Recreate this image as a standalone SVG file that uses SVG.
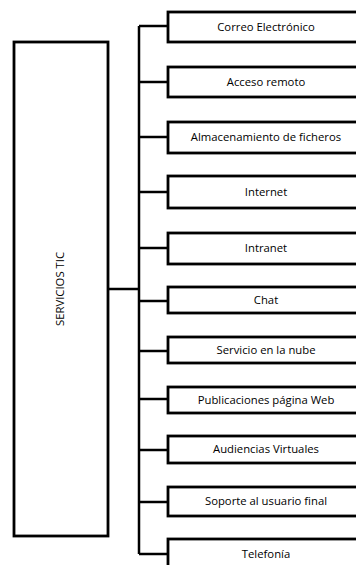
<svg xmlns="http://www.w3.org/2000/svg" width="356" height="565" viewBox="0 0 356 565">
<style>
.box{fill:#fff;stroke:#000;stroke-width:2.8}
.lbl{font-family:"Open Sans","Liberation Sans",Arial,sans-serif;font-size:11.3px;fill:#000;text-anchor:middle}
.conn{stroke:#000;stroke-width:2.5;fill:none}
</style>
<rect width="356" height="565" fill="#fff"/>
<g id="connectors">
<line class="conn" x1="139" y1="26" x2="139" y2="554"/>
<line class="conn" x1="108" y1="289" x2="139" y2="289" stroke-width="3.5"/>
<line class="conn" x1="139" y1="26" x2="168" y2="26"/>
<line class="conn" x1="139" y1="82" x2="168" y2="82"/>
<line class="conn" x1="139" y1="137" x2="168" y2="137"/>
<line class="conn" x1="139" y1="192" x2="168" y2="192"/>
<line class="conn" x1="139" y1="248" x2="168" y2="248"/>
<line class="conn" x1="139" y1="301" x2="168" y2="301"/>
<line class="conn" x1="139" y1="351" x2="168" y2="351"/>
<line class="conn" x1="139" y1="399" x2="168" y2="399"/>
<line class="conn" x1="139" y1="450" x2="168" y2="450"/>
<line class="conn" x1="139" y1="502" x2="168" y2="502"/>
<line class="conn" x1="139" y1="554" x2="168" y2="554"/>
</g>
<g id="servicios-tic">
<rect class="box" x="14" y="42" width="94" height="494"/>
<text class="lbl" transform="translate(64,289) rotate(-90)">SERVICIOS TIC</text>
</g>
<g id="correo">
<rect class="box" x="168" y="12" width="196" height="30"/>
<text class="lbl" x="266" y="31">Correo Electrónico</text>
</g>
<g id="acceso">
<rect class="box" x="168" y="67" width="196" height="30"/>
<text class="lbl" x="266" y="86">Acceso remoto</text>
</g>
<g id="almacenamiento">
<rect class="box" x="168" y="122" width="196" height="31"/>
<text class="lbl" x="266" y="141">Almacenamiento de ficheros</text>
</g>
<g id="internet">
<rect class="box" x="168" y="176" width="196" height="32"/>
<text class="lbl" x="266" y="196">Internet</text>
</g>
<g id="intranet">
<rect class="box" x="168" y="233" width="196" height="31"/>
<text class="lbl" x="266" y="252">Intranet</text>
</g>
<g id="chat">
<rect class="box" x="168" y="287" width="196" height="26"/>
<text class="lbl" x="266" y="304">Chat</text>
</g>
<g id="nube">
<rect class="box" x="168" y="337" width="196" height="26"/>
<text class="lbl" x="266" y="354">Servicio en la nube</text>
</g>
<g id="publicaciones">
<rect class="box" x="168" y="387" width="196" height="26"/>
<text class="lbl" x="266" y="404">Publicaciones página Web</text>
</g>
<g id="audiencias">
<rect class="box" x="168" y="436" width="196" height="27"/>
<text class="lbl" x="266" y="453">Audiencias Virtuales</text>
</g>
<g id="soporte">
<rect class="box" x="168" y="487" width="196" height="29"/>
<text class="lbl" x="266" y="505">Soporte al usuario final</text>
</g>
<g id="telefonia">
<rect class="box" x="168" y="539" width="196" height="32"/>
<text class="lbl" x="266" y="558">Telefonía</text>
</g>
</svg>
